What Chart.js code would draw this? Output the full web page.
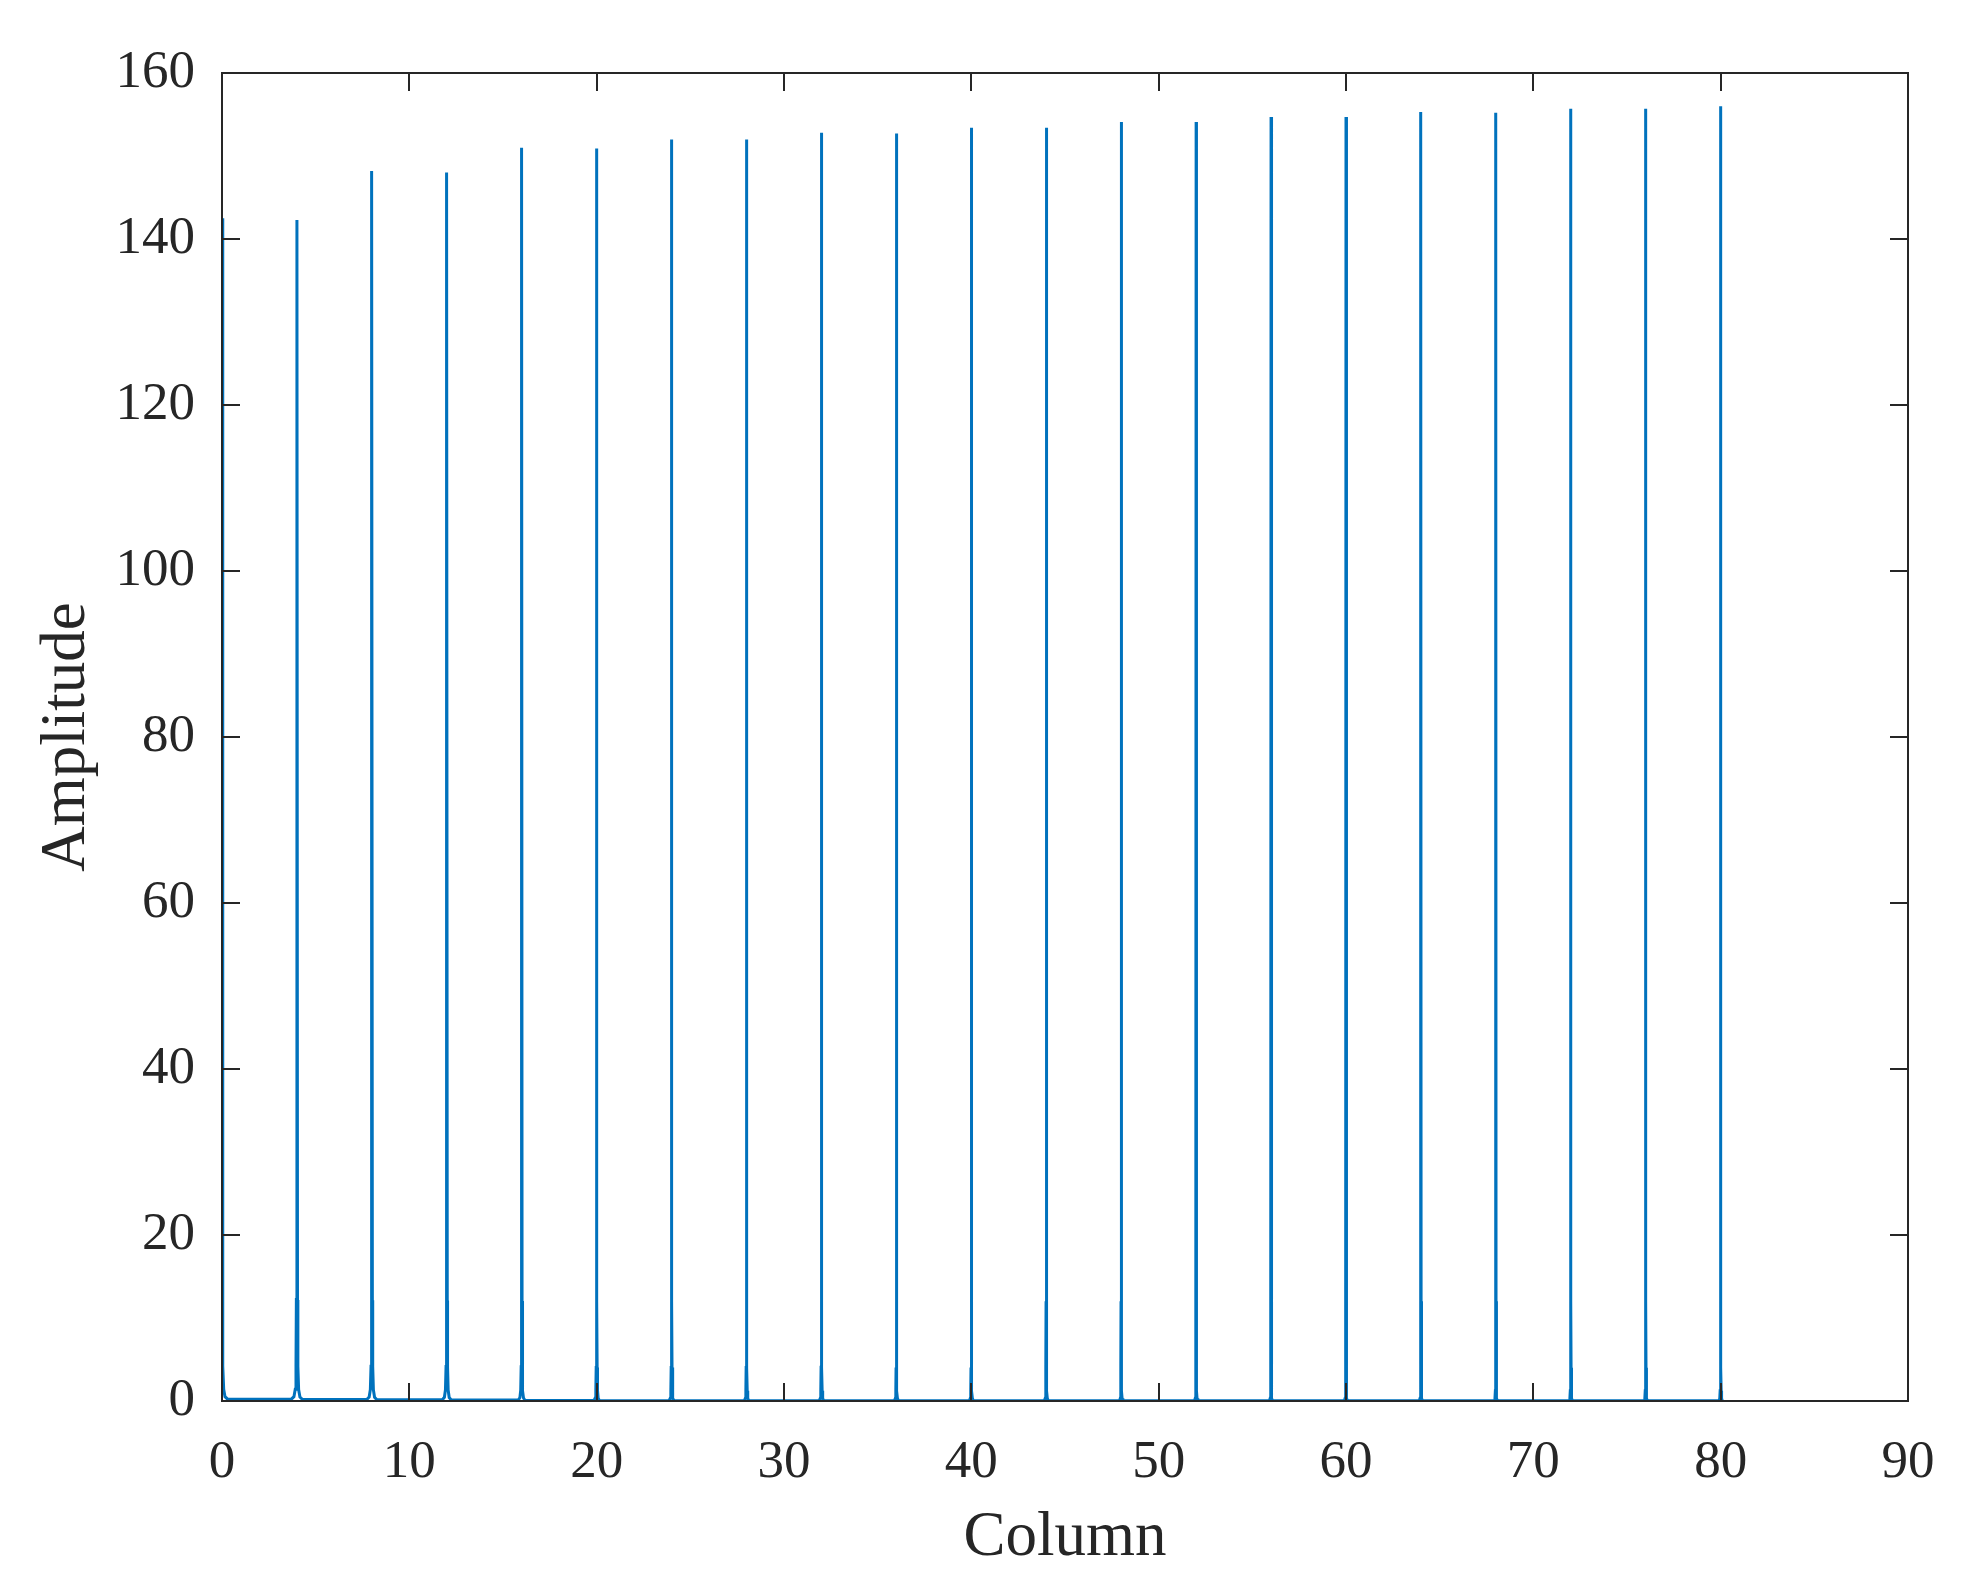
<!DOCTYPE html>
<html>
<head>
<meta charset="utf-8">
<script src="https://cdn.jsdelivr.net/npm/chart.js@4/dist/chart.umd.min.js"></script>
<style>
  html, body { margin: 0; padding: 0; background: #fff; }
  canvas { display: block; }
</style>
</head>
<body>
<canvas id="grafico" width="1988" height="1592"></canvas>
<script>
// dados
const peakColumns = [0, 4, 8, 12, 16, 20, 24, 28, 32, 36, 40, 44, 48, 52, 56, 60, 64, 68, 72, 76, 80]
const peakAmplitudes = [142.5, 142.3, 148.2, 148.0, 151.0, 150.9, 152.0, 152.0, 152.8, 152.7,
                        153.4, 153.4, 154.1, 154.1, 154.7, 154.7, 155.3, 155.2, 155.7, 155.7, 156.0]
// nivel do fundo logo depois de cada pico
const floorLevels = [0.22, 0.18, 0.15, 0.12, 0.05, 0.04, 0.03, 0.03, 0.02, 0.02,
                     0.02, 0.02, 0.02, 0.02, 0.02, 0.02, 0.02, 0.02, 0.02, 0.02, 0.02]
// largura relativa da base de cada pico
const flankScale = [1, 1, 0.9, 0.8, 0.6, 0.5, 0.45, 0.4, 0.4, 0.35,
                    0.35, 0.35, 0.3, 0.3, 0.3, 0.3, 0.3, 0.3, 0.3, 0.3, 0.3]
// perfil da base do pico: distancia ao centro (colunas) e altura acima do fundo
const flankOffsets = [0.3, 0.16, 0.09, 0.05, 0.03]
const flankLevels = [0, 0.3, 1.2, 4, 12]

const xTicks = [0, 10, 20, 30, 40, 50, 60, 70, 80, 90]
const yTicks = [0, 20, 40, 60, 80, 100, 120, 140, 160]

let pontos = []
peakColumns.forEach((c, i) => {
    if (i > 0) {
        const base = floorLevels[i - 1]
        flankOffsets.forEach((off, k) => {
            pontos.push({ x: c - off * flankScale[i], y: base + flankLevels[k] })
        })
    }
    pontos.push({ x: c, y: peakAmplitudes[i] })
    for (let k = flankOffsets.length - 1; k >= 0; k--) {
        pontos.push({ x: c + flankOffsets[k] * flankScale[i], y: floorLevels[i] + flankLevels[k] })
    }
})

const corEixo = '#262626'
const fonte = 'Liberation Serif, Times New Roman, serif'

// caixa e ticks para dentro, estilo matlab
const caixa = {
    id: 'caixa',
    afterDraw(chart) {
        const { ctx, chartArea: a, scales } = chart
        ctx.save()
        ctx.strokeStyle = corEixo
        ctx.lineWidth = 2
        ctx.beginPath()
        xTicks.forEach(v => {
            const px = Math.round(scales.x.getPixelForValue(v))
            ctx.moveTo(px, a.bottom); ctx.lineTo(px, a.bottom - 18)
            ctx.moveTo(px, a.top); ctx.lineTo(px, a.top + 18)
        })
        yTicks.forEach(v => {
            const py = Math.round(scales.y.getPixelForValue(v))
            ctx.moveTo(a.left, py); ctx.lineTo(a.left + 18, py)
            ctx.moveTo(a.right, py); ctx.lineTo(a.right - 18, py)
        })
        ctx.stroke()
        ctx.strokeRect(a.left, a.top, a.right - a.left, a.bottom - a.top)
        ctx.restore()
    }
}

const ctx = document.getElementById('grafico')

const config = {
    type: 'line',
    data: {
        datasets: [{
            data: pontos,
            borderColor: '#0072BD',
            borderWidth: 3,
            pointRadius: 0,
            tension: 0,
            fill: false
        }]
    },
    options: {
        responsive: false,
        animation: false,
        devicePixelRatio: 1,
        layout: { padding: { top: 73, right: 80, left: 0, bottom: 0 } },
        plugins: { legend: { display: false }, tooltip: { enabled: false } },
        scales: {
            x: {
                type: 'linear',
                min: 0,
                max: 90,
                afterFit: s => { s.height = 191 },
                afterBuildTicks: s => { s.ticks = xTicks.map(v => ({ value: v })) },
                grid: { display: false, drawTicks: false },
                border: { display: false },
                ticks: { color: corEixo, font: { family: fonte, size: 53 }, padding: 30, maxRotation: 0 },
                title: { display: true, text: 'Column', color: corEixo,
                         font: { family: fonte, size: 63, lineHeight: 1 }, padding: { top: 0, bottom: 22 } }
            },
            y: {
                type: 'linear',
                min: 0,
                max: 160,
                afterFit: s => { s.width = 222 },
                afterBuildTicks: s => { s.ticks = yTicks.map(v => ({ value: v })) },
                grid: { display: false, drawTicks: false },
                border: { display: false },
                ticks: { color: corEixo, font: { family: fonte, size: 53 }, padding: 27 },
                title: { display: true, text: 'Amplitude', color: corEixo,
                         font: { family: fonte, size: 63, lineHeight: 1 }, padding: { top: 36, bottom: 0 } }
            }
        }
    },
    plugins: [caixa]
}

const grafico = new Chart(ctx, config)
</script>
</body>
</html>
